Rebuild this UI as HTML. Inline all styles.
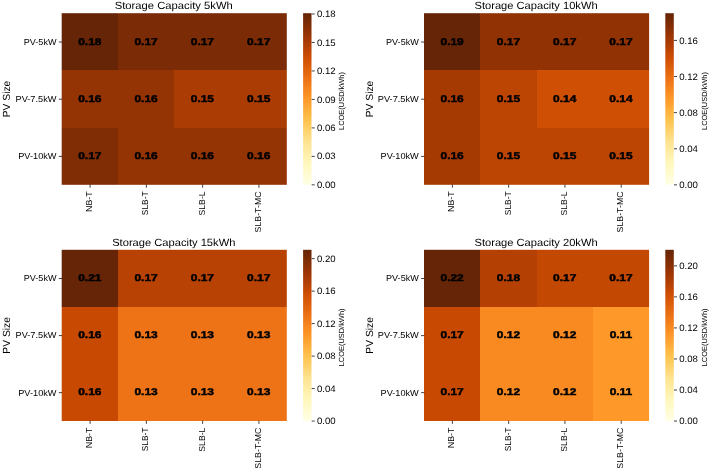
<!DOCTYPE html>
<html><head><meta charset="utf-8"><title>LCOE heatmaps</title>
<style>
html,body{margin:0;padding:0;background:#fff;}
body{width:710px;height:470px;position:relative;overflow:hidden;font-family:"Liberation Sans",sans-serif;color:#000;}
#w{position:absolute;left:0;top:0;width:710px;height:470px;will-change:transform;}
.r{position:absolute;}
.a{position:absolute;left:0;top:0;width:0;height:0;transform-origin:0 0;}
.t{position:absolute;white-space:nowrap;text-rendering:geometricPrecision;}
</style></head><body><div id="w">
<svg width="710" height="470" viewBox="0 0 710 470" style="position:absolute;left:0;top:0">
<defs><linearGradient id="g" x1="0" y1="0" x2="0" y2="1"><stop offset="0.00000" stop-color="#662506"/><stop offset="0.03125" stop-color="#712806"/><stop offset="0.06250" stop-color="#7e2c05"/><stop offset="0.09375" stop-color="#8b3005"/><stop offset="0.12500" stop-color="#983404"/><stop offset="0.15625" stop-color="#a43904"/><stop offset="0.18750" stop-color="#b13f03"/><stop offset="0.21875" stop-color="#be4503"/><stop offset="0.25000" stop-color="#cb4b02"/><stop offset="0.28125" stop-color="#d35406"/><stop offset="0.31250" stop-color="#db5d0b"/><stop offset="0.34375" stop-color="#e3660f"/><stop offset="0.37500" stop-color="#eb6f14"/><stop offset="0.40625" stop-color="#f07919"/><stop offset="0.43750" stop-color="#f5841e"/><stop offset="0.46875" stop-color="#f98e23"/><stop offset="0.50000" stop-color="#fe9829"/><stop offset="0.53125" stop-color="#fea332"/><stop offset="0.56250" stop-color="#feae3b"/><stop offset="0.59375" stop-color="#feb945"/><stop offset="0.62500" stop-color="#fec34f"/><stop offset="0.65625" stop-color="#fecb5f"/><stop offset="0.68750" stop-color="#fed36f"/><stop offset="0.71875" stop-color="#fedb80"/><stop offset="0.75000" stop-color="#fee390"/><stop offset="0.78125" stop-color="#fee89b"/><stop offset="0.81250" stop-color="#feeda6"/><stop offset="0.84375" stop-color="#fff2b1"/><stop offset="0.87500" stop-color="#fff7bc"/><stop offset="0.90625" stop-color="#fff9c6"/><stop offset="0.93750" stop-color="#fffbd0"/><stop offset="0.96875" stop-color="#fffddb"/><stop offset="1.00000" stop-color="#ffffe5"/></linearGradient></defs>
<rect x="61.70" y="13.20" width="56.30" height="56.80" fill="#662506"/>
<rect x="118.00" y="13.20" width="56.00" height="56.80" fill="#7b2b05"/>
<rect x="174.00" y="13.20" width="57.00" height="56.80" fill="#7b2b05"/>
<rect x="231.00" y="13.20" width="55.80" height="56.80" fill="#7b2b05"/>
<rect x="61.70" y="70.00" width="56.30" height="58.00" fill="#943304"/>
<rect x="118.00" y="70.00" width="56.00" height="58.00" fill="#943304"/>
<rect x="174.00" y="70.00" width="57.00" height="58.00" fill="#ab3c03"/>
<rect x="231.00" y="70.00" width="55.80" height="58.00" fill="#ab3c03"/>
<rect x="61.70" y="128.00" width="56.30" height="56.80" fill="#802d05"/>
<rect x="118.00" y="128.00" width="56.00" height="56.80" fill="#943304"/>
<rect x="174.00" y="128.00" width="57.00" height="56.80" fill="#943304"/>
<rect x="231.00" y="128.00" width="55.80" height="56.80" fill="#943304"/>
<rect x="303.10" y="13.20" width="8.40" height="171.60" fill="url(#g)"/>
<rect x="424.00" y="13.20" width="56.00" height="56.80" fill="#662506"/>
<rect x="480.00" y="13.20" width="57.00" height="56.80" fill="#913204"/>
<rect x="537.00" y="13.20" width="56.00" height="56.80" fill="#913204"/>
<rect x="593.00" y="13.20" width="56.10" height="56.80" fill="#913204"/>
<rect x="424.00" y="70.00" width="56.00" height="58.00" fill="#a63a03"/>
<rect x="480.00" y="70.00" width="57.00" height="58.00" fill="#bc4503"/>
<rect x="537.00" y="70.00" width="56.00" height="58.00" fill="#cf5004"/>
<rect x="593.00" y="70.00" width="56.10" height="58.00" fill="#cf5004"/>
<rect x="424.00" y="128.00" width="56.00" height="56.80" fill="#a63a03"/>
<rect x="480.00" y="128.00" width="57.00" height="56.80" fill="#bc4503"/>
<rect x="537.00" y="128.00" width="56.00" height="56.80" fill="#bc4503"/>
<rect x="593.00" y="128.00" width="56.10" height="56.80" fill="#bc4503"/>
<rect x="665.30" y="13.20" width="8.50" height="171.60" fill="url(#g)"/>
<rect x="61.70" y="249.80" width="56.30" height="57.20" fill="#662506"/>
<rect x="118.00" y="249.80" width="56.00" height="57.20" fill="#b84203"/>
<rect x="174.00" y="249.80" width="57.00" height="57.20" fill="#b84203"/>
<rect x="231.00" y="249.80" width="55.80" height="57.20" fill="#b84203"/>
<rect x="61.70" y="307.00" width="56.30" height="57.00" fill="#c84a02"/>
<rect x="118.00" y="307.00" width="56.00" height="57.00" fill="#ed7316"/>
<rect x="174.00" y="307.00" width="57.00" height="57.00" fill="#ed7316"/>
<rect x="231.00" y="307.00" width="55.80" height="57.00" fill="#ed7316"/>
<rect x="61.70" y="364.00" width="56.30" height="57.00" fill="#c84a02"/>
<rect x="118.00" y="364.00" width="56.00" height="57.00" fill="#ed7316"/>
<rect x="174.00" y="364.00" width="57.00" height="57.00" fill="#ed7316"/>
<rect x="231.00" y="364.00" width="55.80" height="57.00" fill="#ed7316"/>
<rect x="303.10" y="249.80" width="8.40" height="171.20" fill="url(#g)"/>
<rect x="424.00" y="249.80" width="56.00" height="57.20" fill="#662506"/>
<rect x="480.00" y="249.80" width="57.00" height="57.20" fill="#b44103"/>
<rect x="537.00" y="249.80" width="56.00" height="57.20" fill="#c34802"/>
<rect x="593.00" y="249.80" width="56.10" height="57.20" fill="#c34802"/>
<rect x="424.00" y="307.00" width="56.00" height="57.00" fill="#c84a02"/>
<rect x="480.00" y="307.00" width="57.00" height="57.00" fill="#f88a21"/>
<rect x="537.00" y="307.00" width="56.00" height="57.00" fill="#f88a21"/>
<rect x="593.00" y="307.00" width="56.10" height="57.00" fill="#fe9829"/>
<rect x="424.00" y="364.00" width="56.00" height="57.00" fill="#c84a02"/>
<rect x="480.00" y="364.00" width="57.00" height="57.00" fill="#f88a21"/>
<rect x="537.00" y="364.00" width="56.00" height="57.00" fill="#f88a21"/>
<rect x="593.00" y="364.00" width="56.10" height="57.00" fill="#fe9829"/>
<rect x="665.30" y="249.80" width="8.50" height="171.20" fill="url(#g)"/>
<g stroke="#111" stroke-width="0.8" fill="none">
<path d="M58.80 42.00L62.00 42.00"/>
<path d="M58.80 99.20L62.00 99.20"/>
<path d="M58.80 156.40L62.00 156.40"/>
<path d="M90.09 184.50L90.09 187.70"/>
<path d="M146.36 184.50L146.36 187.70"/>
<path d="M202.64 184.50L202.64 187.70"/>
<path d="M258.91 184.50L258.91 187.70"/>
<path d="M311.70 184.85L314.70 184.85"/>
<path d="M311.70 156.38L314.70 156.38"/>
<path d="M311.70 127.90L314.70 127.90"/>
<path d="M311.70 99.43L314.70 99.43"/>
<path d="M311.70 70.96L314.70 70.96"/>
<path d="M311.70 42.48L314.70 42.48"/>
<path d="M311.70 14.01L314.70 14.01"/>
<path d="M421.10 42.00L424.30 42.00"/>
<path d="M421.10 99.20L424.30 99.20"/>
<path d="M421.10 156.40L424.30 156.40"/>
<path d="M452.39 184.50L452.39 187.70"/>
<path d="M508.66 184.50L508.66 187.70"/>
<path d="M564.94 184.50L564.94 187.70"/>
<path d="M621.21 184.50L621.21 187.70"/>
<path d="M674.00 184.85L677.00 184.85"/>
<path d="M674.00 148.74L677.00 148.74"/>
<path d="M674.00 112.64L677.00 112.64"/>
<path d="M674.00 76.53L677.00 76.53"/>
<path d="M674.00 40.42L677.00 40.42"/>
<path d="M58.80 278.53L62.00 278.53"/>
<path d="M58.80 335.60L62.00 335.60"/>
<path d="M58.80 392.67L62.00 392.67"/>
<path d="M90.09 420.70L90.09 423.90"/>
<path d="M146.36 420.70L146.36 423.90"/>
<path d="M202.64 420.70L202.64 423.90"/>
<path d="M258.91 420.70L258.91 423.90"/>
<path d="M311.70 421.05L314.70 421.05"/>
<path d="M311.70 388.56L314.70 388.56"/>
<path d="M311.70 356.08L314.70 356.08"/>
<path d="M311.70 323.59L314.70 323.59"/>
<path d="M311.70 291.11L314.70 291.11"/>
<path d="M311.70 258.62L314.70 258.62"/>
<path d="M421.10 278.53L424.30 278.53"/>
<path d="M421.10 335.60L424.30 335.60"/>
<path d="M421.10 392.67L424.30 392.67"/>
<path d="M452.39 420.70L452.39 423.90"/>
<path d="M508.66 420.70L508.66 423.90"/>
<path d="M564.94 420.70L564.94 423.90"/>
<path d="M621.21 420.70L621.21 423.90"/>
<path d="M674.00 421.05L677.00 421.05"/>
<path d="M674.00 390.01L677.00 390.01"/>
<path d="M674.00 358.96L677.00 358.96"/>
<path d="M674.00 327.92L677.00 327.92"/>
<path d="M674.00 296.88L677.00 296.88"/>
<path d="M674.00 265.84L677.00 265.84"/>
</g>
</svg>
<!-- Storage Capacity 5kWh -->
<div class="a" style="transform:translate(173.75px,9.00px) scaleX(1.0763);"><span class="t" style="left:0;transform:translateX(-50%);top:-8px;line-height:11px;font-size:10.45px;">Storage Capacity 5kWh</span></div>
<div class="a" style="transform:translate(56.50px,45.00px) scaleX(1.0442);"><span class="t" style="left:0;transform:translateX(-100%);top:-8px;line-height:10px;font-size:8.7px;">PV-5kW</span></div>
<div class="a" style="transform:translate(56.50px,102.00px) scaleX(1.0617);"><span class="t" style="left:0;transform:translateX(-100%);top:-8px;line-height:10px;font-size:8.7px;">PV-7.5kW</span></div>
<div class="a" style="transform:translate(56.50px,159.00px) scaleX(1.0567);"><span class="t" style="left:0;transform:translateX(-100%);top:-8px;line-height:10px;font-size:8.7px;">PV-10kW</span></div>
<div class="a" style="transform:translate(92.00px,191.40px) rotate(-90deg) scaleX(1.0122);"><span class="t" style="left:0;transform:translateX(-100%);top:-8px;line-height:10px;font-size:8.7px;">NB-T</span></div>
<div class="a" style="transform:translate(148.00px,191.40px) rotate(-90deg) scaleX(0.9641);"><span class="t" style="left:0;transform:translateX(-100%);top:-8px;line-height:10px;font-size:8.7px;">SLB-T</span></div>
<div class="a" style="transform:translate(205.00px,191.40px) rotate(-90deg) scaleX(0.9967);"><span class="t" style="left:0;transform:translateX(-100%);top:-8px;line-height:10px;font-size:8.7px;">SLB-L</span></div>
<div class="a" style="transform:translate(261.00px,191.40px) rotate(-90deg) scaleX(1.0129);"><span class="t" style="left:0;transform:translateX(-100%);top:-8px;line-height:10px;font-size:8.7px;">SLB-T-MC</span></div>
<div class="a" style="transform:translate(10.00px,99.00px) rotate(-90deg) scaleX(0.9983);"><span class="t" style="left:0;transform:translateX(-50%);top:-8px;line-height:11px;font-size:10.3px;">PV Size</span></div>
<div class="a" style="transform:translate(89.84px,45.00px) scaleX(1.22);"><span class="t" style="left:0;transform:translateX(-50%);top:-8px;line-height:11px;font-size:9.8px;font-weight:bold;-webkit-text-stroke:0.45px #000;color:#000;">0.18</span></div>
<div class="a" style="transform:translate(146.11px,45.00px) scaleX(1.22);"><span class="t" style="left:0;transform:translateX(-50%);top:-8px;line-height:11px;font-size:9.8px;font-weight:bold;-webkit-text-stroke:0.45px #000;color:#000;">0.17</span></div>
<div class="a" style="transform:translate(202.39px,45.00px) scaleX(1.22);"><span class="t" style="left:0;transform:translateX(-50%);top:-8px;line-height:11px;font-size:9.8px;font-weight:bold;-webkit-text-stroke:0.45px #000;color:#000;">0.17</span></div>
<div class="a" style="transform:translate(258.66px,45.00px) scaleX(1.22);"><span class="t" style="left:0;transform:translateX(-50%);top:-8px;line-height:11px;font-size:9.8px;font-weight:bold;-webkit-text-stroke:0.45px #000;color:#000;">0.17</span></div>
<div class="a" style="transform:translate(89.84px,102.00px) scaleX(1.22);"><span class="t" style="left:0;transform:translateX(-50%);top:-8px;line-height:11px;font-size:9.8px;font-weight:bold;-webkit-text-stroke:0.45px #000;color:#000;">0.16</span></div>
<div class="a" style="transform:translate(146.11px,102.00px) scaleX(1.22);"><span class="t" style="left:0;transform:translateX(-50%);top:-8px;line-height:11px;font-size:9.8px;font-weight:bold;-webkit-text-stroke:0.45px #000;color:#000;">0.16</span></div>
<div class="a" style="transform:translate(202.39px,102.00px) scaleX(1.22);"><span class="t" style="left:0;transform:translateX(-50%);top:-8px;line-height:11px;font-size:9.8px;font-weight:bold;-webkit-text-stroke:0.45px #000;color:#000;">0.15</span></div>
<div class="a" style="transform:translate(258.66px,102.00px) scaleX(1.22);"><span class="t" style="left:0;transform:translateX(-50%);top:-8px;line-height:11px;font-size:9.8px;font-weight:bold;-webkit-text-stroke:0.45px #000;color:#000;">0.15</span></div>
<div class="a" style="transform:translate(89.84px,159.00px) scaleX(1.22);"><span class="t" style="left:0;transform:translateX(-50%);top:-8px;line-height:11px;font-size:9.8px;font-weight:bold;-webkit-text-stroke:0.45px #000;color:#000;">0.17</span></div>
<div class="a" style="transform:translate(146.11px,159.00px) scaleX(1.22);"><span class="t" style="left:0;transform:translateX(-50%);top:-8px;line-height:11px;font-size:9.8px;font-weight:bold;-webkit-text-stroke:0.45px #000;color:#000;">0.16</span></div>
<div class="a" style="transform:translate(202.39px,159.00px) scaleX(1.22);"><span class="t" style="left:0;transform:translateX(-50%);top:-8px;line-height:11px;font-size:9.8px;font-weight:bold;-webkit-text-stroke:0.45px #000;color:#000;">0.16</span></div>
<div class="a" style="transform:translate(258.66px,159.00px) scaleX(1.22);"><span class="t" style="left:0;transform:translateX(-50%);top:-8px;line-height:11px;font-size:9.8px;font-weight:bold;-webkit-text-stroke:0.45px #000;color:#000;">0.16</span></div>
<div class="a" style="transform:translate(316.90px,188.00px) scaleX(1.0333);"><span class="t" style="left:0;top:-8px;line-height:10px;font-size:9.3px;">0.00</span></div>
<div class="a" style="transform:translate(316.90px,159.00px) scaleX(1.0333);"><span class="t" style="left:0;top:-8px;line-height:10px;font-size:9.3px;">0.03</span></div>
<div class="a" style="transform:translate(316.90px,131.00px) scaleX(1.0333);"><span class="t" style="left:0;top:-8px;line-height:10px;font-size:9.3px;">0.06</span></div>
<div class="a" style="transform:translate(316.90px,103.00px) scaleX(1.0333);"><span class="t" style="left:0;top:-8px;line-height:10px;font-size:9.3px;">0.09</span></div>
<div class="a" style="transform:translate(316.90px,74.00px) scaleX(1.0333);"><span class="t" style="left:0;top:-8px;line-height:10px;font-size:9.3px;">0.12</span></div>
<div class="a" style="transform:translate(316.90px,46.00px) scaleX(1.0333);"><span class="t" style="left:0;top:-8px;line-height:10px;font-size:9.3px;">0.15</span></div>
<div class="a" style="transform:translate(316.90px,17.00px) scaleX(1.0333);"><span class="t" style="left:0;top:-8px;line-height:10px;font-size:9.3px;">0.18</span></div>
<div class="a" style="transform:translate(344.00px,101.00px) rotate(-90deg) scaleX(1.0056);"><span class="t" style="left:0;transform:translateX(-50%);top:-7px;line-height:9px;font-size:7.4px;">LCOE(USD/kWh)</span></div>
<!-- Storage Capacity 10kWh -->
<div class="a" style="transform:translate(536.05px,9.00px) scaleX(1.0668);"><span class="t" style="left:0;transform:translateX(-50%);top:-8px;line-height:11px;font-size:10.45px;">Storage Capacity 10kWh</span></div>
<div class="a" style="transform:translate(418.80px,45.00px) scaleX(1.0442);"><span class="t" style="left:0;transform:translateX(-100%);top:-8px;line-height:10px;font-size:8.7px;">PV-5kW</span></div>
<div class="a" style="transform:translate(418.80px,102.00px) scaleX(1.0617);"><span class="t" style="left:0;transform:translateX(-100%);top:-8px;line-height:10px;font-size:8.7px;">PV-7.5kW</span></div>
<div class="a" style="transform:translate(418.80px,159.00px) scaleX(1.0567);"><span class="t" style="left:0;transform:translateX(-100%);top:-8px;line-height:10px;font-size:8.7px;">PV-10kW</span></div>
<div class="a" style="transform:translate(454.00px,191.40px) rotate(-90deg) scaleX(1.0122);"><span class="t" style="left:0;transform:translateX(-100%);top:-8px;line-height:10px;font-size:8.7px;">NB-T</span></div>
<div class="a" style="transform:translate(511.00px,191.40px) rotate(-90deg) scaleX(0.9641);"><span class="t" style="left:0;transform:translateX(-100%);top:-8px;line-height:10px;font-size:8.7px;">SLB-T</span></div>
<div class="a" style="transform:translate(567.00px,191.40px) rotate(-90deg) scaleX(0.9967);"><span class="t" style="left:0;transform:translateX(-100%);top:-8px;line-height:10px;font-size:8.7px;">SLB-L</span></div>
<div class="a" style="transform:translate(623.00px,191.40px) rotate(-90deg) scaleX(1.0129);"><span class="t" style="left:0;transform:translateX(-100%);top:-8px;line-height:10px;font-size:8.7px;">SLB-T-MC</span></div>
<div class="a" style="transform:translate(373.00px,99.00px) rotate(-90deg) scaleX(0.9983);"><span class="t" style="left:0;transform:translateX(-50%);top:-8px;line-height:11px;font-size:10.3px;">PV Size</span></div>
<div class="a" style="transform:translate(452.14px,45.00px) scaleX(1.22);"><span class="t" style="left:0;transform:translateX(-50%);top:-8px;line-height:11px;font-size:9.8px;font-weight:bold;-webkit-text-stroke:0.45px #000;color:#000;">0.19</span></div>
<div class="a" style="transform:translate(508.41px,45.00px) scaleX(1.22);"><span class="t" style="left:0;transform:translateX(-50%);top:-8px;line-height:11px;font-size:9.8px;font-weight:bold;-webkit-text-stroke:0.45px #000;color:#000;">0.17</span></div>
<div class="a" style="transform:translate(564.69px,45.00px) scaleX(1.22);"><span class="t" style="left:0;transform:translateX(-50%);top:-8px;line-height:11px;font-size:9.8px;font-weight:bold;-webkit-text-stroke:0.45px #000;color:#000;">0.17</span></div>
<div class="a" style="transform:translate(620.96px,45.00px) scaleX(1.22);"><span class="t" style="left:0;transform:translateX(-50%);top:-8px;line-height:11px;font-size:9.8px;font-weight:bold;-webkit-text-stroke:0.45px #000;color:#000;">0.17</span></div>
<div class="a" style="transform:translate(452.14px,102.00px) scaleX(1.22);"><span class="t" style="left:0;transform:translateX(-50%);top:-8px;line-height:11px;font-size:9.8px;font-weight:bold;-webkit-text-stroke:0.45px #000;color:#000;">0.16</span></div>
<div class="a" style="transform:translate(508.41px,102.00px) scaleX(1.22);"><span class="t" style="left:0;transform:translateX(-50%);top:-8px;line-height:11px;font-size:9.8px;font-weight:bold;-webkit-text-stroke:0.45px #000;color:#000;">0.15</span></div>
<div class="a" style="transform:translate(564.69px,102.00px) scaleX(1.22);"><span class="t" style="left:0;transform:translateX(-50%);top:-8px;line-height:11px;font-size:9.8px;font-weight:bold;-webkit-text-stroke:0.45px #000;color:#000;">0.14</span></div>
<div class="a" style="transform:translate(620.96px,102.00px) scaleX(1.22);"><span class="t" style="left:0;transform:translateX(-50%);top:-8px;line-height:11px;font-size:9.8px;font-weight:bold;-webkit-text-stroke:0.45px #000;color:#000;">0.14</span></div>
<div class="a" style="transform:translate(452.14px,159.00px) scaleX(1.22);"><span class="t" style="left:0;transform:translateX(-50%);top:-8px;line-height:11px;font-size:9.8px;font-weight:bold;-webkit-text-stroke:0.45px #000;color:#000;">0.16</span></div>
<div class="a" style="transform:translate(508.41px,159.00px) scaleX(1.22);"><span class="t" style="left:0;transform:translateX(-50%);top:-8px;line-height:11px;font-size:9.8px;font-weight:bold;-webkit-text-stroke:0.45px #000;color:#000;">0.15</span></div>
<div class="a" style="transform:translate(564.69px,159.00px) scaleX(1.22);"><span class="t" style="left:0;transform:translateX(-50%);top:-8px;line-height:11px;font-size:9.8px;font-weight:bold;-webkit-text-stroke:0.45px #000;color:#000;">0.15</span></div>
<div class="a" style="transform:translate(620.96px,159.00px) scaleX(1.22);"><span class="t" style="left:0;transform:translateX(-50%);top:-8px;line-height:11px;font-size:9.8px;font-weight:bold;-webkit-text-stroke:0.45px #000;color:#000;">0.15</span></div>
<div class="a" style="transform:translate(679.20px,188.00px) scaleX(1.0333);"><span class="t" style="left:0;top:-8px;line-height:10px;font-size:9.3px;">0.00</span></div>
<div class="a" style="transform:translate(679.20px,152.00px) scaleX(1.0333);"><span class="t" style="left:0;top:-8px;line-height:10px;font-size:9.3px;">0.04</span></div>
<div class="a" style="transform:translate(679.20px,116.00px) scaleX(1.0333);"><span class="t" style="left:0;top:-8px;line-height:10px;font-size:9.3px;">0.08</span></div>
<div class="a" style="transform:translate(679.20px,80.00px) scaleX(1.0333);"><span class="t" style="left:0;top:-8px;line-height:10px;font-size:9.3px;">0.12</span></div>
<div class="a" style="transform:translate(679.20px,44.00px) scaleX(1.0333);"><span class="t" style="left:0;top:-8px;line-height:10px;font-size:9.3px;">0.16</span></div>
<div class="a" style="transform:translate(707.00px,101.00px) rotate(-90deg) scaleX(1.0056);"><span class="t" style="left:0;transform:translateX(-50%);top:-7px;line-height:9px;font-size:7.4px;">LCOE(USD/kWh)</span></div>
<!-- Storage Capacity 15kWh -->
<div class="a" style="transform:translate(173.75px,246.00px) scaleX(1.0668);"><span class="t" style="left:0;transform:translateX(-50%);top:-8px;line-height:11px;font-size:10.45px;">Storage Capacity 15kWh</span></div>
<div class="a" style="transform:translate(56.50px,281.00px) scaleX(1.0442);"><span class="t" style="left:0;transform:translateX(-100%);top:-8px;line-height:10px;font-size:8.7px;">PV-5kW</span></div>
<div class="a" style="transform:translate(56.50px,338.00px) scaleX(1.0617);"><span class="t" style="left:0;transform:translateX(-100%);top:-8px;line-height:10px;font-size:8.7px;">PV-7.5kW</span></div>
<div class="a" style="transform:translate(56.50px,396.00px) scaleX(1.0567);"><span class="t" style="left:0;transform:translateX(-100%);top:-8px;line-height:10px;font-size:8.7px;">PV-10kW</span></div>
<div class="a" style="transform:translate(92.00px,427.60px) rotate(-90deg) scaleX(1.0122);"><span class="t" style="left:0;transform:translateX(-100%);top:-8px;line-height:10px;font-size:8.7px;">NB-T</span></div>
<div class="a" style="transform:translate(148.00px,427.60px) rotate(-90deg) scaleX(0.9641);"><span class="t" style="left:0;transform:translateX(-100%);top:-8px;line-height:10px;font-size:8.7px;">SLB-T</span></div>
<div class="a" style="transform:translate(205.00px,427.60px) rotate(-90deg) scaleX(0.9967);"><span class="t" style="left:0;transform:translateX(-100%);top:-8px;line-height:10px;font-size:8.7px;">SLB-L</span></div>
<div class="a" style="transform:translate(261.00px,427.60px) rotate(-90deg) scaleX(1.0129);"><span class="t" style="left:0;transform:translateX(-100%);top:-8px;line-height:10px;font-size:8.7px;">SLB-T-MC</span></div>
<div class="a" style="transform:translate(10.00px,335.40px) rotate(-90deg) scaleX(0.9983);"><span class="t" style="left:0;transform:translateX(-50%);top:-8px;line-height:11px;font-size:10.3px;">PV Size</span></div>
<div class="a" style="transform:translate(89.84px,281.00px) scaleX(1.22);"><span class="t" style="left:0;transform:translateX(-50%);top:-8px;line-height:11px;font-size:9.8px;font-weight:bold;-webkit-text-stroke:0.45px #000;color:#000;">0.21</span></div>
<div class="a" style="transform:translate(146.11px,281.00px) scaleX(1.22);"><span class="t" style="left:0;transform:translateX(-50%);top:-8px;line-height:11px;font-size:9.8px;font-weight:bold;-webkit-text-stroke:0.45px #000;color:#000;">0.17</span></div>
<div class="a" style="transform:translate(202.39px,281.00px) scaleX(1.22);"><span class="t" style="left:0;transform:translateX(-50%);top:-8px;line-height:11px;font-size:9.8px;font-weight:bold;-webkit-text-stroke:0.45px #000;color:#000;">0.17</span></div>
<div class="a" style="transform:translate(258.66px,281.00px) scaleX(1.22);"><span class="t" style="left:0;transform:translateX(-50%);top:-8px;line-height:11px;font-size:9.8px;font-weight:bold;-webkit-text-stroke:0.45px #000;color:#000;">0.17</span></div>
<div class="a" style="transform:translate(89.84px,338.00px) scaleX(1.22);"><span class="t" style="left:0;transform:translateX(-50%);top:-8px;line-height:11px;font-size:9.8px;font-weight:bold;-webkit-text-stroke:0.45px #000;color:#000;">0.16</span></div>
<div class="a" style="transform:translate(146.11px,338.00px) scaleX(1.22);"><span class="t" style="left:0;transform:translateX(-50%);top:-8px;line-height:11px;font-size:9.8px;font-weight:bold;-webkit-text-stroke:0.45px #000;color:#000;">0.13</span></div>
<div class="a" style="transform:translate(202.39px,338.00px) scaleX(1.22);"><span class="t" style="left:0;transform:translateX(-50%);top:-8px;line-height:11px;font-size:9.8px;font-weight:bold;-webkit-text-stroke:0.45px #000;color:#000;">0.13</span></div>
<div class="a" style="transform:translate(258.66px,338.00px) scaleX(1.22);"><span class="t" style="left:0;transform:translateX(-50%);top:-8px;line-height:11px;font-size:9.8px;font-weight:bold;-webkit-text-stroke:0.45px #000;color:#000;">0.13</span></div>
<div class="a" style="transform:translate(89.84px,395.00px) scaleX(1.22);"><span class="t" style="left:0;transform:translateX(-50%);top:-8px;line-height:11px;font-size:9.8px;font-weight:bold;-webkit-text-stroke:0.45px #000;color:#000;">0.16</span></div>
<div class="a" style="transform:translate(146.11px,395.00px) scaleX(1.22);"><span class="t" style="left:0;transform:translateX(-50%);top:-8px;line-height:11px;font-size:9.8px;font-weight:bold;-webkit-text-stroke:0.45px #000;color:#000;">0.13</span></div>
<div class="a" style="transform:translate(202.39px,395.00px) scaleX(1.22);"><span class="t" style="left:0;transform:translateX(-50%);top:-8px;line-height:11px;font-size:9.8px;font-weight:bold;-webkit-text-stroke:0.45px #000;color:#000;">0.13</span></div>
<div class="a" style="transform:translate(258.66px,395.00px) scaleX(1.22);"><span class="t" style="left:0;transform:translateX(-50%);top:-8px;line-height:11px;font-size:9.8px;font-weight:bold;-webkit-text-stroke:0.45px #000;color:#000;">0.13</span></div>
<div class="a" style="transform:translate(316.90px,424.00px) scaleX(1.0333);"><span class="t" style="left:0;top:-8px;line-height:10px;font-size:9.3px;">0.00</span></div>
<div class="a" style="transform:translate(316.90px,392.00px) scaleX(1.0333);"><span class="t" style="left:0;top:-8px;line-height:10px;font-size:9.3px;">0.04</span></div>
<div class="a" style="transform:translate(316.90px,359.00px) scaleX(1.0333);"><span class="t" style="left:0;top:-8px;line-height:10px;font-size:9.3px;">0.08</span></div>
<div class="a" style="transform:translate(316.90px,327.00px) scaleX(1.0333);"><span class="t" style="left:0;top:-8px;line-height:10px;font-size:9.3px;">0.12</span></div>
<div class="a" style="transform:translate(316.90px,294.00px) scaleX(1.0333);"><span class="t" style="left:0;top:-8px;line-height:10px;font-size:9.3px;">0.16</span></div>
<div class="a" style="transform:translate(316.90px,262.00px) scaleX(1.0333);"><span class="t" style="left:0;top:-8px;line-height:10px;font-size:9.3px;">0.20</span></div>
<div class="a" style="transform:translate(344.00px,337.40px) rotate(-90deg) scaleX(1.0056);"><span class="t" style="left:0;transform:translateX(-50%);top:-7px;line-height:9px;font-size:7.4px;">LCOE(USD/kWh)</span></div>
<!-- Storage Capacity 20kWh -->
<div class="a" style="transform:translate(536.05px,246.00px) scaleX(1.0668);"><span class="t" style="left:0;transform:translateX(-50%);top:-8px;line-height:11px;font-size:10.45px;">Storage Capacity 20kWh</span></div>
<div class="a" style="transform:translate(418.80px,281.00px) scaleX(1.0442);"><span class="t" style="left:0;transform:translateX(-100%);top:-8px;line-height:10px;font-size:8.7px;">PV-5kW</span></div>
<div class="a" style="transform:translate(418.80px,338.00px) scaleX(1.0617);"><span class="t" style="left:0;transform:translateX(-100%);top:-8px;line-height:10px;font-size:8.7px;">PV-7.5kW</span></div>
<div class="a" style="transform:translate(418.80px,396.00px) scaleX(1.0567);"><span class="t" style="left:0;transform:translateX(-100%);top:-8px;line-height:10px;font-size:8.7px;">PV-10kW</span></div>
<div class="a" style="transform:translate(454.00px,427.60px) rotate(-90deg) scaleX(1.0122);"><span class="t" style="left:0;transform:translateX(-100%);top:-8px;line-height:10px;font-size:8.7px;">NB-T</span></div>
<div class="a" style="transform:translate(511.00px,427.60px) rotate(-90deg) scaleX(0.9641);"><span class="t" style="left:0;transform:translateX(-100%);top:-8px;line-height:10px;font-size:8.7px;">SLB-T</span></div>
<div class="a" style="transform:translate(567.00px,427.60px) rotate(-90deg) scaleX(0.9967);"><span class="t" style="left:0;transform:translateX(-100%);top:-8px;line-height:10px;font-size:8.7px;">SLB-L</span></div>
<div class="a" style="transform:translate(623.00px,427.60px) rotate(-90deg) scaleX(1.0129);"><span class="t" style="left:0;transform:translateX(-100%);top:-8px;line-height:10px;font-size:8.7px;">SLB-T-MC</span></div>
<div class="a" style="transform:translate(373.00px,335.40px) rotate(-90deg) scaleX(0.9983);"><span class="t" style="left:0;transform:translateX(-50%);top:-8px;line-height:11px;font-size:10.3px;">PV Size</span></div>
<div class="a" style="transform:translate(452.14px,281.00px) scaleX(1.22);"><span class="t" style="left:0;transform:translateX(-50%);top:-8px;line-height:11px;font-size:9.8px;font-weight:bold;-webkit-text-stroke:0.45px #000;color:#000;">0.22</span></div>
<div class="a" style="transform:translate(508.41px,281.00px) scaleX(1.22);"><span class="t" style="left:0;transform:translateX(-50%);top:-8px;line-height:11px;font-size:9.8px;font-weight:bold;-webkit-text-stroke:0.45px #000;color:#000;">0.18</span></div>
<div class="a" style="transform:translate(564.69px,281.00px) scaleX(1.22);"><span class="t" style="left:0;transform:translateX(-50%);top:-8px;line-height:11px;font-size:9.8px;font-weight:bold;-webkit-text-stroke:0.45px #000;color:#000;">0.17</span></div>
<div class="a" style="transform:translate(620.96px,281.00px) scaleX(1.22);"><span class="t" style="left:0;transform:translateX(-50%);top:-8px;line-height:11px;font-size:9.8px;font-weight:bold;-webkit-text-stroke:0.45px #000;color:#000;">0.17</span></div>
<div class="a" style="transform:translate(452.14px,338.00px) scaleX(1.22);"><span class="t" style="left:0;transform:translateX(-50%);top:-8px;line-height:11px;font-size:9.8px;font-weight:bold;-webkit-text-stroke:0.45px #000;color:#000;">0.17</span></div>
<div class="a" style="transform:translate(508.41px,338.00px) scaleX(1.22);"><span class="t" style="left:0;transform:translateX(-50%);top:-8px;line-height:11px;font-size:9.8px;font-weight:bold;-webkit-text-stroke:0.45px #000;color:#000;">0.12</span></div>
<div class="a" style="transform:translate(564.69px,338.00px) scaleX(1.22);"><span class="t" style="left:0;transform:translateX(-50%);top:-8px;line-height:11px;font-size:9.8px;font-weight:bold;-webkit-text-stroke:0.45px #000;color:#000;">0.12</span></div>
<div class="a" style="transform:translate(620.96px,338.00px) scaleX(1.22);"><span class="t" style="left:0;transform:translateX(-50%);top:-8px;line-height:11px;font-size:9.8px;font-weight:bold;-webkit-text-stroke:0.45px #000;color:#000;">0.11</span></div>
<div class="a" style="transform:translate(452.14px,395.00px) scaleX(1.22);"><span class="t" style="left:0;transform:translateX(-50%);top:-8px;line-height:11px;font-size:9.8px;font-weight:bold;-webkit-text-stroke:0.45px #000;color:#000;">0.17</span></div>
<div class="a" style="transform:translate(508.41px,395.00px) scaleX(1.22);"><span class="t" style="left:0;transform:translateX(-50%);top:-8px;line-height:11px;font-size:9.8px;font-weight:bold;-webkit-text-stroke:0.45px #000;color:#000;">0.12</span></div>
<div class="a" style="transform:translate(564.69px,395.00px) scaleX(1.22);"><span class="t" style="left:0;transform:translateX(-50%);top:-8px;line-height:11px;font-size:9.8px;font-weight:bold;-webkit-text-stroke:0.45px #000;color:#000;">0.12</span></div>
<div class="a" style="transform:translate(620.96px,395.00px) scaleX(1.22);"><span class="t" style="left:0;transform:translateX(-50%);top:-8px;line-height:11px;font-size:9.8px;font-weight:bold;-webkit-text-stroke:0.45px #000;color:#000;">0.11</span></div>
<div class="a" style="transform:translate(679.20px,424.00px) scaleX(1.0333);"><span class="t" style="left:0;top:-8px;line-height:10px;font-size:9.3px;">0.00</span></div>
<div class="a" style="transform:translate(679.20px,393.00px) scaleX(1.0333);"><span class="t" style="left:0;top:-8px;line-height:10px;font-size:9.3px;">0.04</span></div>
<div class="a" style="transform:translate(679.20px,362.00px) scaleX(1.0333);"><span class="t" style="left:0;top:-8px;line-height:10px;font-size:9.3px;">0.08</span></div>
<div class="a" style="transform:translate(679.20px,331.00px) scaleX(1.0333);"><span class="t" style="left:0;top:-8px;line-height:10px;font-size:9.3px;">0.12</span></div>
<div class="a" style="transform:translate(679.20px,300.00px) scaleX(1.0333);"><span class="t" style="left:0;top:-8px;line-height:10px;font-size:9.3px;">0.16</span></div>
<div class="a" style="transform:translate(679.20px,269.00px) scaleX(1.0333);"><span class="t" style="left:0;top:-8px;line-height:10px;font-size:9.3px;">0.20</span></div>
<div class="a" style="transform:translate(707.00px,337.40px) rotate(-90deg) scaleX(1.0056);"><span class="t" style="left:0;transform:translateX(-50%);top:-7px;line-height:9px;font-size:7.4px;">LCOE(USD/kWh)</span></div>
</div></body></html>
